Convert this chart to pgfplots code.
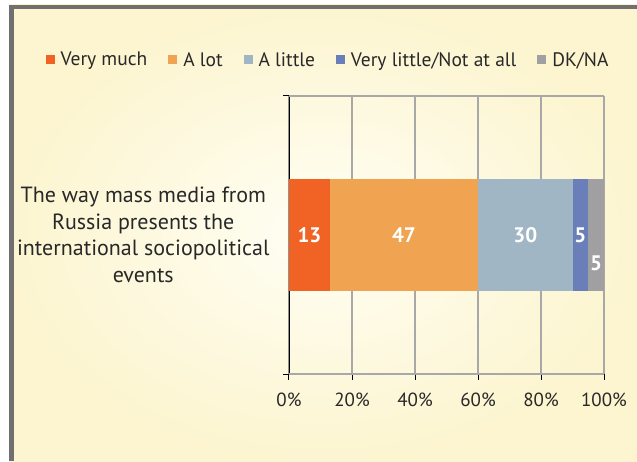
\documentclass[border=0pt]{standalone}
\usepackage{pgfplots}
\pgfplotsset{compat=1.18}
\usepackage{fontspec}
\setmainfont{PT Sans}

\definecolor{vmuch}{RGB}{241,99,36}
\definecolor{alot}{RGB}{240,163,80}
\definecolor{alittle}{RGB}{160,182,197}
\definecolor{vlittle}{RGB}{106,126,185}
\definecolor{dkna}{RGB}{160,160,162}
\definecolor{gridgray}{RGB}{168,168,168}
\definecolor{framegray}{RGB}{112,112,112}
\definecolor{bgin}{RGB}{255,254,244}
\definecolor{bgout}{RGB}{252,245,208}
\definecolor{txt}{RGB}{40,40,40}

\begin{document}
\begin{tikzpicture}[x=1pt,y=1pt]
% page and panel background
\fill[white] (0,0) rectangle (637,461);
\shade[inner color=bgin, outer color=bgout] (9,0) rectangle (637,456);
\fill[framegray] (9,452) rectangle (637,456);
\fill[framegray] (9,0) rectangle (14,456);

\begin{axis}[
  at={(289pt,87pt)}, anchor=south west,
  scale only axis, width=315pt, height=278pt,
  xmin=0, xmax=100, ymin=-1, ymax=1,
  enlargelimits=false,
  xbar stacked, bar width=111pt,
  axis line style={draw=none},
  xtick={0,20,...,100},
  xtick pos=left, ytick pos=left,
  xticklabel={\pgfmathprintnumber{\tick}\%},
  /pgf/number format/assume math mode=true,
  xticklabel style={font=\fontsize{19}{22}\selectfont, text=txt, yshift=-9pt},
  xmajorgrids, grid style={gridgray, line width=2.2pt},
  ytick={-1,1}, yticklabels={},
  extra y ticks={0},
  extra y tick labels={The way mass media from\\Russia presents the\\international sociopolitical\\events},
  extra y tick style={major tick length=0pt,
    yticklabel style={align=center, font=\fontsize{22}{26.5}\selectfont, text=txt, xshift=-16pt}},
  tick align=outside, major tick length=6pt,
  tick style={black, line width=1pt},
  point meta=explicit,
  nodes near coords,
  every node near coord/.append style={anchor=center, text=white,
    font=\bfseries\fontsize{21}{24}\selectfont},
  legend columns=5,
  legend style={at={(0.124,1.13)}, anchor=center, draw=none, fill=none,
    font=\fontsize{19.5}{22}\selectfont, text=txt,
    /tikz/every even column/.append style={column sep=19pt},
    /tikz/every odd column/.append style={column sep=4pt}},
  legend image code/.code={\fill[#1,draw=none] (0pt,-4.5pt) rectangle (9pt,4.5pt);},
]
% value labels sit in the middle of each segment; the last one is dropped below
\addplot[fill=vmuch, draw=none] coordinates {(13,0) [13]};
\addplot[fill=alot, draw=none] coordinates {(47,0) [47]};
\addplot[fill=alittle, draw=none] coordinates {(30,0) [30]};
\addplot[fill=vlittle, draw=none] coordinates {(5,0) [5]};
\addplot[fill=dkna, draw=none, every node near coord/.append style={yshift=-28pt}]
  coordinates {(5,0) [5]};
\legend{Very much, A lot, A little, Very little/Not at all, DK/NA}
% plot frame
\draw[gridgray, line width=2.2pt] (axis cs:0,1) -- (axis cs:100,1);
\draw[gridgray, line width=2.6pt] (axis cs:0,-1) -- (axis cs:100,-1);
\draw[black, line width=1.3pt] (axis cs:0,-1) -- (axis cs:0,1);
\end{axis}
\pgfresetboundingbox
\useasboundingbox (0,0) rectangle (637,461);
\end{tikzpicture}
\end{document}
